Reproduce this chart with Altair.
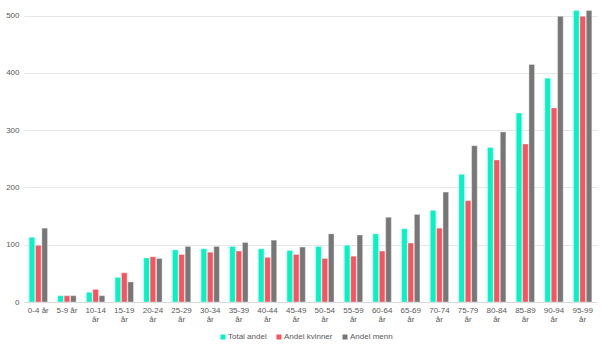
import altair as alt
import pandas as pd

categories = ["0-4 år", "5-9 år", "10-14 år", "15-19 år", "20-24 år", "25-29 år",
              "30-34 år", "35-39 år", "40-44 år", "45-49 år", "50-54 år", "55-59 år",
              "60-64 år", "65-69 år", "70-74 år", "75-79 år", "80-84 år", "85-89 år",
              "90-94 år", "95-99 år"]
total = [113, 11, 17, 43, 77, 91, 93, 97, 93, 90, 97, 99, 119, 128, 160, 223, 270, 330, 391, 509]
kvinner = [99, 11, 22, 51, 79, 83, 87, 89, 78, 83, 76, 80, 89, 103, 129, 177, 248, 276, 339, 499]
menn = [129, 11, 11, 35, 76, 97, 97, 104, 108, 96, 119, 117, 148, 153, 192, 273, 297, 415, 499, 509]
series = ["Total andel", "Andel kvinner", "Andel menn"]
colors = ["#00F5C6", "#F9535F", "#777777"]

rows = []
for i, c in enumerate(categories):
    for s, vals in zip(series, [total, kvinner, menn]):
        rows.append({"kategori": c, "serie": s, "verdi": vals[i]})
df = pd.DataFrame(rows)

font = "Liberation Sans"

chart = alt.Chart(df).mark_bar(stroke="#f0f0f0", strokeWidth=0.4).encode(
    x=alt.X("kategori:N", sort=categories, title=None,
            scale=alt.Scale(paddingInner=0.36, paddingOuter=0.18),
            axis=alt.Axis(labelAngle=0, ticks=False, domain=True, domainColor="#d9d9d9",
                          labelFont=font, labelFontSize=8, labelColor="#595959",
                          labelPadding=4, labelLineHeight=9,
                          labelExpr="length(datum.label) > 6 ? split(datum.label, ' ') : datum.label")),
    xOffset=alt.XOffset("serie:N", sort=series, scale=alt.Scale(paddingInner=0.12)),
    y=alt.Y("verdi:Q", title=None,
            scale=alt.Scale(domain=[0, 510], nice=False),
            axis=alt.Axis(values=[0, 100, 200, 300, 400, 500], ticks=False, domain=False,
                          gridColor="#e6e6e6", gridWidth=1,
                          labelFont=font, labelFontSize=8, labelColor="#595959",
                          labelPadding=5)),
    color=alt.Color("serie:N", sort=series,
                    scale=alt.Scale(domain=series, range=colors),
                    legend=alt.Legend(title=None, orient="none", direction="horizontal",
                                      legendX=195, legendY=323,
                                      symbolType="square", symbolSize=25,
                                      symbolStrokeWidth=0,
                                      labelFont=font, labelFontSize=8, labelColor="#595959",
                                      labelOffset=1, columnPadding=8)),
).properties(
    width=573, height=292,
    autosize=alt.AutoSizeParams(type="none"),
    padding={"left": 24, "top": 10, "right": 5, "bottom": 49},
).configure_view(stroke=None)

chart.save("out.html", embed_options={"renderer": "svg", "actions": False})
